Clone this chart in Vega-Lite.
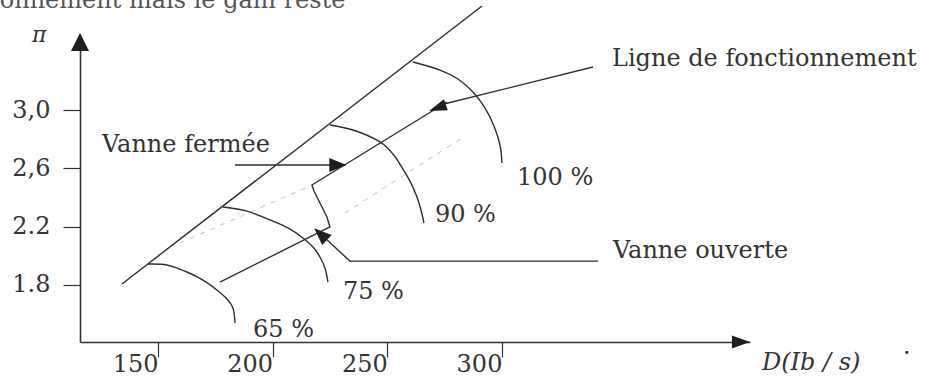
{
  "$schema": "https://vega.github.io/schema/vega-lite/v6.json",
  "width": 670,
  "height": 307,
  "autosize": {"type": "none"},
  "padding": {"left": 80, "top": 35, "right": 185, "bottom": 37},
  "background": "white",
  "config": {"view": {"stroke": null}},
  "datasets": {
    "arcs": [
      {"curve": "65 %", "seq": 1, "D": 145.64, "pi": 1.944},
      {"curve": "65 %", "seq": 2, "D": 153.92, "pi": 1.937},
      {"curve": "65 %", "seq": 3, "D": 162.65, "pi": 1.889},
      {"curve": "65 %", "seq": 4, "D": 169.62, "pi": 1.834},
      {"curve": "65 %", "seq": 5, "D": 175.73, "pi": 1.766},
      {"curve": "65 %", "seq": 6, "D": 180.09, "pi": 1.704},
      {"curve": "65 %", "seq": 7, "D": 182.71, "pi": 1.642},
      {"curve": "65 %", "seq": 8, "D": 183.58, "pi": 1.539},
      {"curve": "75 %", "seq": 1, "D": 178.35, "pi": 2.335},
      {"curve": "75 %", "seq": 2, "D": 188.81, "pi": 2.307},
      {"curve": "75 %", "seq": 3, "D": 198.84, "pi": 2.246},
      {"curve": "75 %", "seq": 4, "D": 206.69, "pi": 2.191},
      {"curve": "75 %", "seq": 5, "D": 213.24, "pi": 2.122},
      {"curve": "75 %", "seq": 6, "D": 217.60, "pi": 2.060},
      {"curve": "75 %", "seq": 7, "D": 220.65, "pi": 1.992},
      {"curve": "75 %", "seq": 8, "D": 222.83, "pi": 1.916},
      {"curve": "75 %", "seq": 9, "D": 224.14, "pi": 1.820},
      {"curve": "90 %", "seq": 1, "D": 225.01, "pi": 2.897},
      {"curve": "90 %", "seq": 2, "D": 236.35, "pi": 2.856},
      {"curve": "90 %", "seq": 3, "D": 246.82, "pi": 2.781},
      {"curve": "90 %", "seq": 4, "D": 252.49, "pi": 2.698},
      {"curve": "90 %", "seq": 5, "D": 256.85, "pi": 2.595},
      {"curve": "90 %", "seq": 6, "D": 260.34, "pi": 2.499},
      {"curve": "90 %", "seq": 7, "D": 262.95, "pi": 2.403},
      {"curve": "90 %", "seq": 8, "D": 264.70, "pi": 2.314},
      {"curve": "90 %", "seq": 9, "D": 266.01, "pi": 2.225},
      {"curve": "100 %", "seq": 1, "D": 261.21, "pi": 3.329},
      {"curve": "100 %", "seq": 2, "D": 272.98, "pi": 3.274},
      {"curve": "100 %", "seq": 3, "D": 280.83, "pi": 3.213},
      {"curve": "100 %", "seq": 4, "D": 287.37, "pi": 3.124},
      {"curve": "100 %", "seq": 5, "D": 292.61, "pi": 3.014},
      {"curve": "100 %", "seq": 6, "D": 296.53, "pi": 2.890},
      {"curve": "100 %", "seq": 7, "D": 299.15, "pi": 2.760},
      {"curve": "100 %", "seq": 8, "D": 300.02, "pi": 2.637}
    ],
    "segments": [
      {"curve": "pompage", "seq": 1, "D": 134.3, "pi": 1.807},
      {"curve": "pompage", "seq": 2, "D": 291.3, "pi": 3.713},
      {"curve": "fonctionnement", "seq": 1, "D": 177.04, "pi": 1.820},
      {"curve": "fonctionnement", "seq": 2, "D": 225.01, "pi": 2.198},
      {"curve": "fonctionnement", "seq": 3, "D": 223.70, "pi": 2.266},
      {"curve": "fonctionnement", "seq": 4, "D": 218.03, "pi": 2.445},
      {"curve": "fonctionnement", "seq": 5, "D": 217.16, "pi": 2.486},
      {"curve": "fonctionnement", "seq": 6, "D": 276.04, "pi": 3.055},
      {"curve": "renvoi ligne", "seq": 1, "D": 274.73, "pi": 3.041},
      {"curve": "renvoi ligne", "seq": 2, "D": 339.71, "pi": 3.295},
      {"curve": "renvoi fermée", "seq": 1, "D": 183.58, "pi": 2.623},
      {"curve": "renvoi fermée", "seq": 2, "D": 228.5, "pi": 2.623},
      {"curve": "renvoi ouverte", "seq": 1, "D": 341.89, "pi": 1.964},
      {"curve": "renvoi ouverte", "seq": 2, "D": 233.73, "pi": 1.964},
      {"curve": "renvoi ouverte", "seq": 3, "D": 222.83, "pi": 2.122}
    ],
    "faint": [
      {"curve": "a", "seq": 1, "D": 159.59, "pi": 2.088},
      {"curve": "a", "seq": 2, "D": 216.29, "pi": 2.479},
      {"curve": "b", "seq": 1, "D": 231.55, "pi": 2.294},
      {"curve": "b", "seq": 2, "D": 282.58, "pi": 2.808}
    ],
    "heads": [
      {"name": "fermée", "D": 228.5, "pi": 2.623},
      {"name": "ouverte", "D": 220.91, "pi": 2.149},
      {"name": "ligne", "D": 271.89, "pi": 3.015},
      {"name": "axe D", "D": 404.25, "pi": 1.409},
      {"name": "axe pi", "D": 116.0, "pi": 3.466}
    ],
    "labels": [
      {"text": "Ligne de fonctionnement", "D": 347.99, "pi": 3.302},
      {"text": "Vanne fermée", "D": 125.58, "pi": 2.712},
      {"text": "Vanne ouverte", "D": 348.43, "pi": 1.985},
      {"text": "100 %", "D": 306.56, "pi": 2.486},
      {"text": "90 %", "D": 270.80, "pi": 2.232},
      {"text": "75 %", "D": 230.68, "pi": 1.704},
      {"text": "65 %", "D": 191.43, "pi": 1.443},
      {"text": "·", "D": 474.9, "pi": 1.279}
    ],
    "header": [
      {"text": "onnement mais le gain reste", "D": 81.0, "pi": 3.700}
    ],
    "titles": [
      {"text": "π", "D": 95.05, "pi": 3.466, "size": "small"},
      {"text": "D(Ib / s)", "D": 413.41, "pi": 1.217, "size": "large"}
    ]
  },
  "encoding": {
    "x": {
      "field": "D",
      "type": "quantitative",
      "scale": {"domain": [116.0, 408.2], "nice": false, "zero": false},
      "axis": {
        "values": [150, 200, 250, 300],
        "format": "d",
        "title": null,
        "grid": false,
        "domainColor": "#333",
        "domainWidth": 1.6,
        "tickColor": "#333",
        "tickWidth": 1.2,
        "tickSize": 15,
        "labelFont": "DejaVu Serif",
        "labelFontSize": 24,
        "labelColor": "#333",
        "labelAlign": "right",
        "labelDx": -3,
        "labelBaseline": "alphabetic",
        "labelPadding": 14,
        "labelFlush": false,
        "labelOverlap": false
      }
    },
    "y": {
      "field": "pi",
      "type": "quantitative",
      "scale": {"domain": [1.409, 3.5145], "nice": false, "zero": false},
      "axis": {
        "values": [1.8, 2.2, 2.6, 3.0],
        "labelExpr": "datum.value > 2.5 ? replace(format(datum.value, '.1f'), '.', ',') : format(datum.value, '.1f')",
        "title": null,
        "grid": false,
        "domainColor": "#333",
        "domainWidth": 1.6,
        "tickColor": "#333",
        "tickWidth": 1.2,
        "tickSize": 17,
        "labelFont": "DejaVu Serif",
        "labelFontSize": 24,
        "labelColor": "#333",
        "labelPadding": 13,
        "labelFlush": false,
        "labelOverlap": false
      }
    }
  },
  "layer": [
    {
      "data": {"name": "faint"},
      "mark": {"type": "line", "color": "#cfcfcf", "strokeWidth": 1.2, "strokeDash": [5, 6]},
      "encoding": {"detail": {"field": "curve"}, "order": {"field": "seq"}}
    },
    {
      "data": {"name": "arcs"},
      "mark": {"type": "line", "interpolate": "cardinal", "color": "#2e2e2e", "strokeWidth": 1.4},
      "encoding": {"detail": {"field": "curve"}, "order": {"field": "seq"}}
    },
    {
      "data": {"name": "segments"},
      "mark": {"type": "line", "color": "#2e2e2e", "strokeWidth": 1.4},
      "encoding": {"detail": {"field": "curve"}, "order": {"field": "seq"}}
    },
    {
      "data": {"name": "heads"},
      "transform": [{"filter": "datum.name == 'fermée'"}],
      "mark": {"type": "point", "shape": "M1,0L-1,-0.8L-1,0.8Z", "size": 300, "filled": true, "color": "#1e1e1e", "opacity": 1, "angle": 0}
    },
    {
      "data": {"name": "heads"},
      "transform": [{"filter": "datum.name == 'ouverte'"}],
      "mark": {"type": "point", "shape": "M1,0L-1,-0.8L-1,0.8Z", "size": 300, "filled": true, "color": "#1e1e1e", "opacity": 1, "angle": 223}
    },
    {
      "data": {"name": "heads"},
      "transform": [{"filter": "datum.name == 'ligne'"}],
      "mark": {"type": "point", "shape": "M1,0L-1,-0.65L-1,0.65Z", "size": 320, "filled": true, "color": "#1e1e1e", "opacity": 1, "angle": 160}
    },
    {
      "data": {"name": "heads"},
      "transform": [{"filter": "datum.name == 'axe D'"}],
      "mark": {"type": "point", "shape": "M1,0L-1,-0.72L-1,0.72Z", "size": 324, "filled": true, "color": "#1e1e1e", "opacity": 1, "angle": 0}
    },
    {
      "data": {"name": "heads"},
      "transform": [{"filter": "datum.name == 'axe pi'"}],
      "mark": {"type": "point", "shape": "M1,0L-1,-1L-1,1Z", "size": 324, "filled": true, "color": "#1e1e1e", "opacity": 1, "angle": 270}
    },
    {
      "data": {"name": "labels"},
      "mark": {"type": "text", "align": "left", "baseline": "alphabetic", "font": "DejaVu Serif", "fontSize": 24, "color": "#333"},
      "encoding": {"text": {"field": "text"}}
    },
    {
      "data": {"name": "header"},
      "mark": {"type": "text", "align": "left", "baseline": "alphabetic", "font": "DejaVu Serif", "fontSize": 24, "color": "#555"},
      "encoding": {"text": {"field": "text"}}
    },
    {
      "data": {"name": "titles"},
      "transform": [{"filter": "datum.size == 'small'"}],
      "mark": {"type": "text", "align": "left", "baseline": "alphabetic", "font": "DejaVu Serif", "fontStyle": "italic", "fontSize": 22, "color": "#333"},
      "encoding": {"text": {"field": "text"}}
    },
    {
      "data": {"name": "titles"},
      "transform": [{"filter": "datum.size == 'large'"}],
      "mark": {"type": "text", "align": "left", "baseline": "alphabetic", "font": "DejaVu Serif", "fontStyle": "italic", "fontSize": 24, "color": "#333"},
      "encoding": {"text": {"field": "text"}}
    }
  ]
}
